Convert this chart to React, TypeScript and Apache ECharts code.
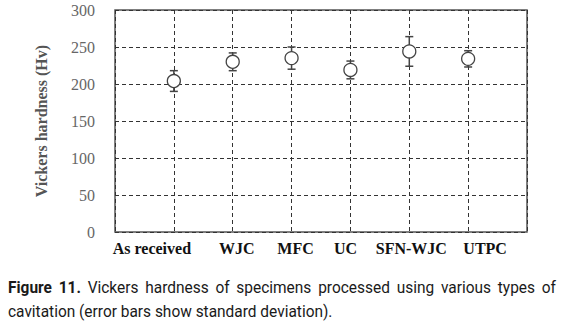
import React, { useEffect, useRef } from "react";
import * as echarts from "echarts";

// ---- data ----
const categories = ["As received", "WJC", "MFC", "UC", "SFN-WJC", "UTPC"];
const hardness = [204, 230, 235, 219, 244, 234];
const stdDev = [14, 12, 15, 12, 20, 11];
const yMin = 0;
const yMax = 300;
const yStep = 50;

// caption text
const captionBoldWords = ["Figure", "11."];
const captionLine1Words = ["Vickers", "hardness", "of", "specimens", "processed", "using", "various", "types", "of"];
const captionLine2 = "cavitation (error bars show standard deviation).";

// layout (label horizontal offsets in px, to match the reference's placement)
const labelOffsets = [-22, 4, 4, -5, 2, 17];

const SERIF = "'Liberation Serif', 'Times New Roman', serif";
const CAP_FONT = "Roboto";
const CAP_SIZE = 16;

function measure(text: string, font: string): number {
  const ctx = document.createElement("canvas").getContext("2d");
  if (!ctx) return text.length * 7;
  ctx.font = font;
  return ctx.measureText(text).width;
}

export default function App() {
  const ref = useRef<HTMLDivElement>(null);

  useEffect(() => {
    document.body.style.margin = "0";
    if (!ref.current) return;
    const chart = echarts.init(ref.current, undefined, { renderer: "svg" });

    const axisData = ["", ...categories, ""];

    // caption layout
    const normalFont = `${CAP_SIZE}px ${CAP_FONT}`;
    const boldFont = `bold ${CAP_SIZE}px ${CAP_FONT}`;
    const line2Target = 325;
    const s = line2Target / measure(captionLine2, normalFont);
    const words = [
      ...captionBoldWords.map((w) => ({ w, bold: true })),
      ...captionLine1Words.map((w) => ({ w, bold: false })),
    ];
    const widths = words.map((o) => measure(o.w, o.bold ? boldFont : normalFont) * s);
    const total = widths.reduce((a, b) => a + b, 0);
    const startX = 8;
    const endX = 556;
    const gap = (endX - startX - total) / (words.length - 1);
    let cx = startX;
    const captionEls: any[] = [];
    words.forEach((o, i) => {
      captionEls.push({
        type: "text",
        x: cx,
        y: 287,
        scaleX: s,
        style: {
          text: o.w,
          fontFamily: CAP_FONT,
          fontSize: CAP_SIZE,
          fontWeight: o.bold ? "bold" : "normal",
          fill: "#1a1a1a",
          align: "left",
          verticalAlign: "middle",
        },
      });
      cx += widths[i] + gap;
    });
    captionEls.push({
      type: "text",
      x: startX,
      y: 311,
      scaleX: s,
      style: {
        text: captionLine2,
        fontFamily: CAP_FONT,
        fontSize: CAP_SIZE,
        fill: "#1a1a1a",
        align: "left",
        verticalAlign: "middle",
      },
    });

    const rich: Record<string, any> = {};
    labelOffsets.forEach((d, i) => {
      rich["c" + i] = {
        fontFamily: SERIF,
        fontSize: 16,
        fontWeight: "bold",
        color: "#111",
        padding: d >= 0 ? [0, 0, 0, 2 * d] : [0, -2 * d, 0, 0],
      };
    });

    chart.setOption({
      animation: false,
      backgroundColor: "#fff",
      grid: {
        left: 115,
        right: 43,
        top: 10,
        bottom: 98,
        show: true,
        borderColor: "#555",
        borderWidth: 1.5,
        backgroundColor: "transparent",
      },
      xAxis: {
        type: "category",
        data: axisData,
        boundaryGap: false,
        axisLine: { show: false },
        axisTick: { show: false },
        axisLabel: {
          interval: 0,
          margin: 8,
          fontFamily: SERIF,
          fontSize: 16,
          fontWeight: "bold",
          color: "#111",
          formatter: (v: string, idx: number) => {
            if (!v) return "";
            return `{c${idx - 1}|${v}}`;
          },
          rich,
        },
        splitLine: {
          show: true,
          interval: 0,
          lineStyle: { color: "#333", type: [4, 3], width: 1 },
        },
      },
      yAxis: {
        type: "value",
        min: yMin,
        max: yMax,
        interval: yStep,
        name: "Vickers hardness (Hv)",
        nameLocation: "middle",
        nameGap: 66,
        nameTextStyle: {
          fontFamily: SERIF,
          fontSize: 16,
          fontWeight: "bold",
          color: "#555",
        },
        axisLine: { show: false },
        axisTick: { show: false },
        axisLabel: {
          margin: 20,
          fontFamily: SERIF,
          fontSize: 16,
          color: "#666",
        },
        splitLine: {
          show: true,
          lineStyle: { color: "#333", type: [4, 3], width: 1 },
        },
      },
      series: [
        {
          type: "custom",
          z: 2,
          data: hardness.map((m, i) => [i + 1, m, stdDev[i]]),
          renderItem: (params: any, api: any) => {
            const x = api.value(0);
            const m = api.value(1);
            const sd = api.value(2);
            const top = api.coord([x, m + sd]);
            const bot = api.coord([x, m - sd]);
            const hw = 4;
            const st = { stroke: "#444", lineWidth: 1.5 };
            return {
              type: "group",
              children: [
                { type: "line", shape: { x1: top[0], y1: top[1], x2: bot[0], y2: bot[1] }, style: st },
                { type: "line", shape: { x1: top[0] - hw, y1: top[1], x2: top[0] + hw, y2: top[1] }, style: st },
                { type: "line", shape: { x1: bot[0] - hw, y1: bot[1], x2: bot[0] + hw, y2: bot[1] }, style: st },
              ],
            };
          },
        },
        {
          type: "scatter",
          z: 3,
          symbol: "circle",
          symbolSize: 13,
          itemStyle: { color: "#fff", borderColor: "#444", borderWidth: 1.3, opacity: 1 },
          data: hardness.map((m, i) => [i + 1, m]),
        },
      ],
      graphic: captionEls,
    });

    return () => chart.dispose();
  }, []);

  return <div ref={ref} style={{ width: 570, height: 330 }} />;
}
